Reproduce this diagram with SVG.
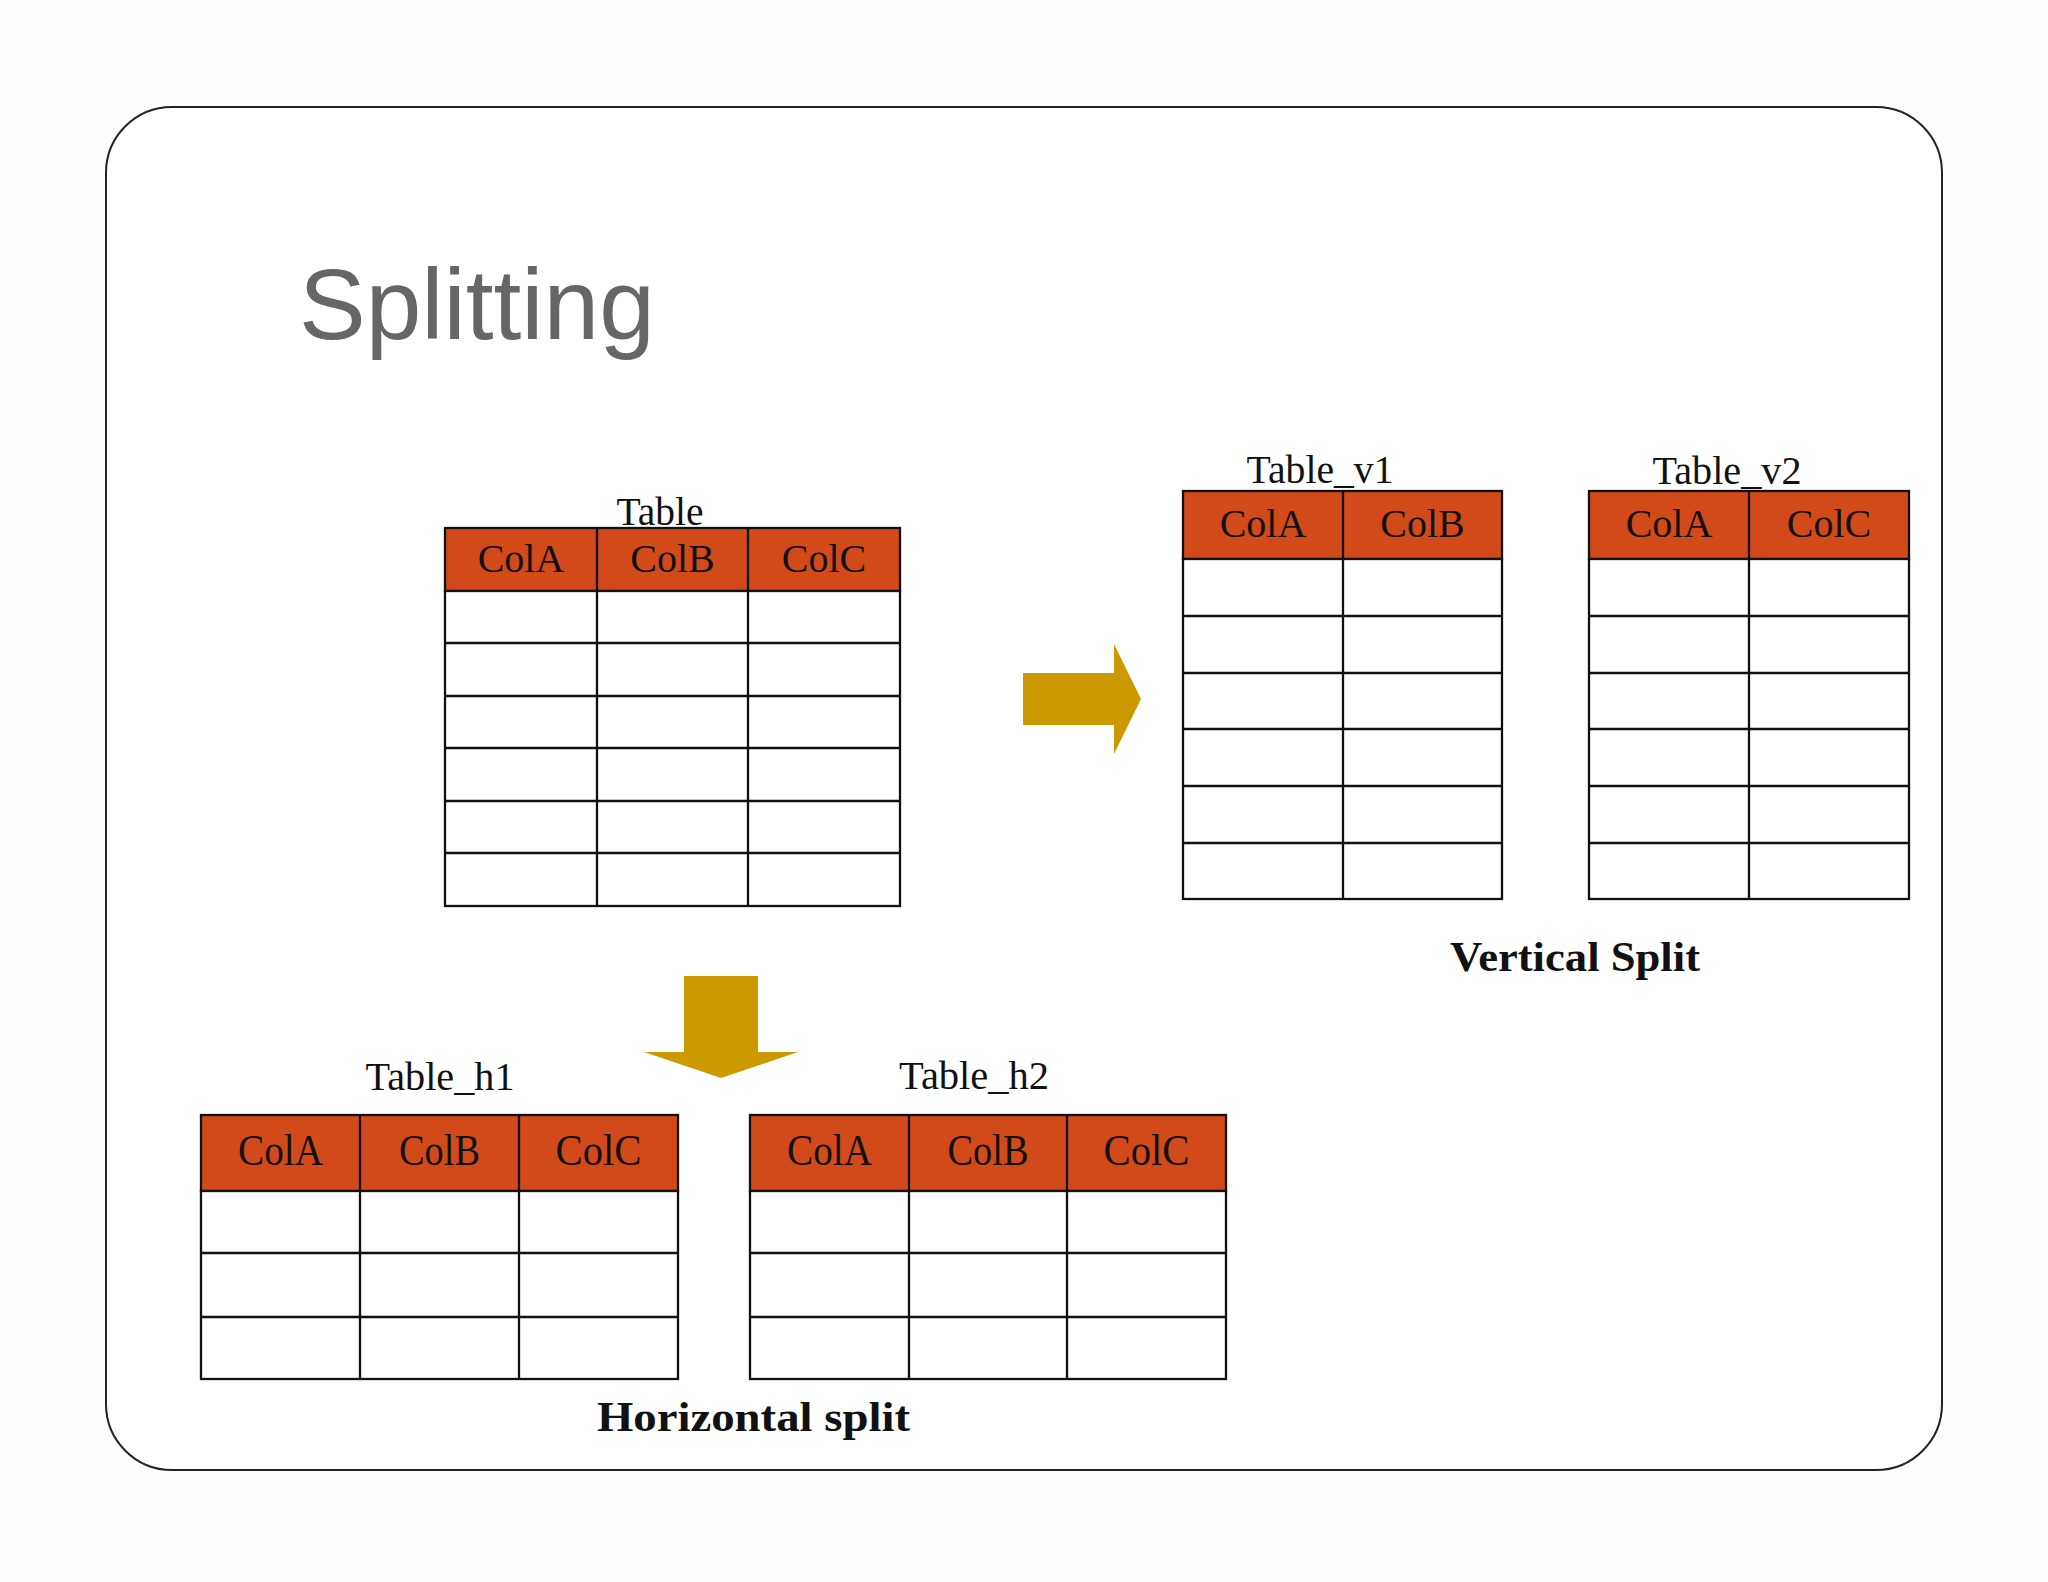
<svg xmlns="http://www.w3.org/2000/svg" width="2048" height="1582" viewBox="0 0 2048 1582">
<style>
.hdr{fill:#D34A1A;stroke:#111;stroke-width:2.3}
.body{fill:#FFFFFF;stroke:#111;stroke-width:2.3}
.ln{stroke:#111;stroke-width:2.3;fill:none}
.ct{font-family:"Liberation Serif","Times New Roman",serif;font-size:40px;fill:#111;text-anchor:middle}
.ch{font-family:"Liberation Serif","Times New Roman",serif;font-size:44px;fill:#111;text-anchor:middle}
.lbl{font-family:"Liberation Serif","Times New Roman",serif;font-size:39px;fill:#111;text-anchor:middle}
.cap{font-family:"Liberation Serif","Times New Roman",serif;font-size:42px;font-weight:bold;fill:#111;text-anchor:middle}
.arrow{fill:#CC9A00}
</style>
<rect width="2048" height="1582" fill="#FEFDFD"/>
<rect id="frame" x="106" y="107" width="1836" height="1363" rx="66" ry="66" fill="#FFFFFF" stroke="#222" stroke-width="2"/>
<text id="title" x="299" y="339" font-family="'Liberation Sans',Arial,sans-serif" font-size="100" fill="#666666">Splitting</text>

<g id="table">
<text class="lbl" x="660" y="525" textLength="87" lengthAdjust="spacingAndGlyphs">Table</text>
<rect class="hdr" x="445" y="528" width="455" height="63"/>
<rect class="body" x="445" y="591" width="455" height="315"/>
<path class="ln" d="M445 643H900M445 696H900M445 748H900M445 801H900M445 853H900M597 528V906M748 528V906"/>
<text class="ct" x="521" y="572">ColA</text>
<text class="ct" x="672.5" y="572">ColB</text>
<text class="ct" x="824" y="572">ColC</text>
</g>

<g id="table_v1">
<text class="lbl" x="1320" y="483" textLength="147" lengthAdjust="spacingAndGlyphs">Table_v1</text>
<rect class="hdr" x="1183" y="491" width="319" height="68"/>
<rect class="body" x="1183" y="559" width="319" height="340"/>
<path class="ln" d="M1183 616H1502M1183 673H1502M1183 729H1502M1183 786H1502M1183 843H1502M1343 491V899"/>
<text class="ct" x="1263" y="537">ColA</text>
<text class="ct" x="1422.5" y="537">ColB</text>
</g>

<g id="table_v2">
<text class="lbl" x="1727" y="484" textLength="149" lengthAdjust="spacingAndGlyphs">Table_v2</text>
<rect class="hdr" x="1589" y="491" width="320" height="68"/>
<rect class="body" x="1589" y="559" width="320" height="340"/>
<path class="ln" d="M1589 616H1909M1589 673H1909M1589 729H1909M1589 786H1909M1589 843H1909M1749 491V899"/>
<text class="ct" x="1669" y="537">ColA</text>
<text class="ct" x="1829" y="537">ColC</text>
</g>

<text id="vertical_label" class="cap" x="1575" y="971" textLength="250" lengthAdjust="spacingAndGlyphs">Vertical Split</text>

<g id="table_h1">
<text class="lbl" x="440" y="1090" textLength="149" lengthAdjust="spacingAndGlyphs">Table_h1</text>
<rect class="hdr" x="201" y="1115" width="477" height="76"/>
<rect class="body" x="201" y="1191" width="477" height="188"/>
<path class="ln" d="M201 1253H678M201 1317H678M360 1115V1379M519 1115V1379"/>
<text class="ch" x="280.5" y="1165" textLength="85" lengthAdjust="spacingAndGlyphs">ColA</text>
<text class="ch" x="439.5" y="1165" textLength="81" lengthAdjust="spacingAndGlyphs">ColB</text>
<text class="ch" x="598.5" y="1165" textLength="86" lengthAdjust="spacingAndGlyphs">ColC</text>
</g>

<g id="table_h2">
<text class="lbl" x="974" y="1089" textLength="150" lengthAdjust="spacingAndGlyphs">Table_h2</text>
<rect class="hdr" x="750" y="1115" width="476" height="76"/>
<rect class="body" x="750" y="1191" width="476" height="188"/>
<path class="ln" d="M750 1253H1226M750 1317H1226M909 1115V1379M1067 1115V1379"/>
<text class="ch" x="829.5" y="1165" textLength="85" lengthAdjust="spacingAndGlyphs">ColA</text>
<text class="ch" x="988" y="1165" textLength="81" lengthAdjust="spacingAndGlyphs">ColB</text>
<text class="ch" x="1146.5" y="1165" textLength="86" lengthAdjust="spacingAndGlyphs">ColC</text>
</g>

<text id="horizontal_label" class="cap" x="753.5" y="1431" textLength="313" lengthAdjust="spacingAndGlyphs">Horizontal split</text>

<g id="connectors">
<polygon class="arrow" points="1023,673 1114,673 1114,644 1141,699 1114,754 1114,725 1023,725"/>
<polygon class="arrow" points="684,976 758,976 758,1052 798,1052 721,1078 644,1052 684,1052"/>
</g>
</svg>
